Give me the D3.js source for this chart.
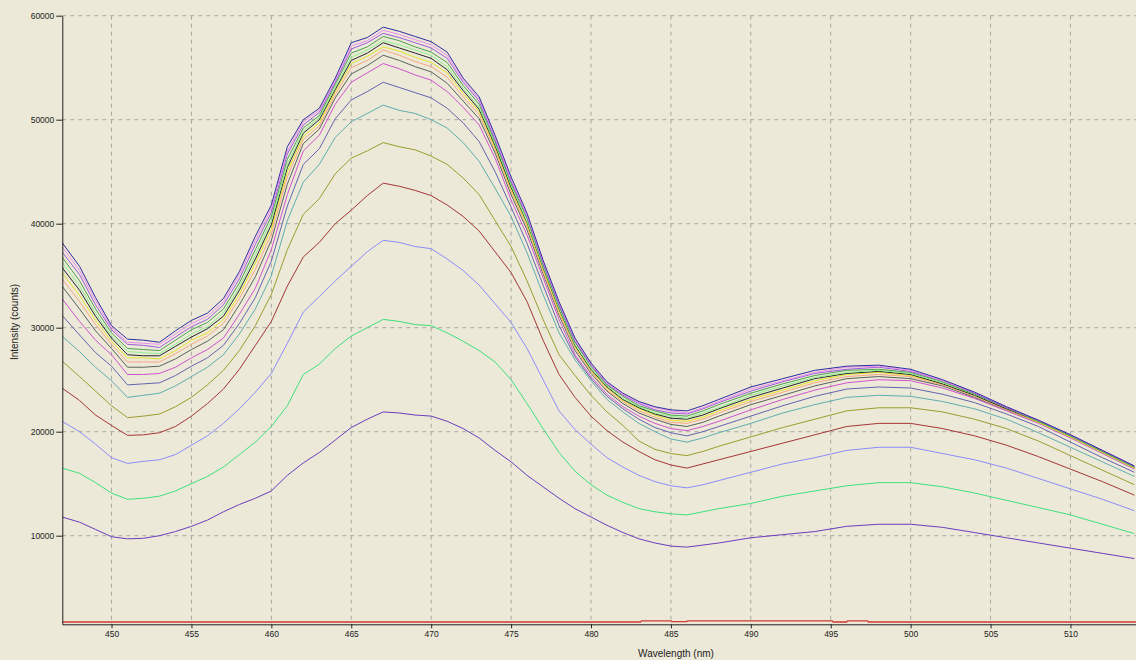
<!DOCTYPE html>
<meta charset="utf-8">
<script src="https://d3js.org/d3.v7.min.js"></script>
<style>
  body { margin: 0; background: #ECE9D8; }
</style>
<div id="my_dataviz"></div>
<script>

// wavelength grid (nm) shared by all spectra
var wavelength = [446.9,448,449,450,451,452,453,454,455,456,457,458,459,460,461,462,463,464,465,466,467,468,469,470,471,472,473,474,475,476,477,478,479,480,481,482,483,484,485,486,487,488,490,492,494,496,498,500,502,504,506,508,510,512,514];

// intensity (counts), lowest spectrum first
var purple  = [11800,11300,10600,9900,9700,9750,10000,10400,10900,11500,12300,13000,13600,14300,15800,17000,18000,19200,20400,21200,21900,21800,21600,21500,21000,20300,19400,18200,17100,15800,14700,13600,12600,11800,11000,10300,9700,9300,9000,8900,9100,9300,9800,10100,10400,10900,11100,11100,10800,10300,9800,9300,8800,8300,7800];
var green   = [16500,16000,15100,14100,13500,13600,13800,14300,15000,15700,16600,17800,19000,20500,22500,25500,26500,28000,29200,30000,30800,30600,30300,30200,29500,28700,27800,26700,25000,22700,20300,18000,16200,14900,13900,13200,12600,12300,12100,12000,12300,12600,13100,13800,14300,14800,15100,15100,14700,14100,13400,12700,12000,11100,10200];
var lavender= [21000,20000,18800,17500,16950,17150,17300,17800,18700,19600,20800,22200,23800,25600,28500,31500,33000,34500,35900,37300,38400,38200,37800,37600,36600,35500,34100,32300,30500,28000,25000,22000,20200,18800,17500,16600,15800,15200,14800,14600,14900,15300,16100,16900,17500,18200,18500,18500,17900,17300,16500,15500,14500,13500,12400];
var brown   = [24200,23000,21600,20600,19650,19700,19900,20500,21500,22700,24100,26000,28300,30600,34000,36800,38200,40000,41300,42700,43900,43600,43200,42700,41800,40700,39300,37300,35300,32500,28800,25500,23300,21500,20100,19000,18100,17300,16800,16500,16900,17300,18100,18900,19700,20500,20800,20800,20300,19600,18700,17600,16400,15200,13900];
var olive   = [26800,25300,23900,22500,21350,21500,21700,22400,23300,24500,25900,27800,30200,33200,37500,40900,42400,44800,46300,47000,47800,47400,47100,46500,45700,44400,42800,40300,37800,34500,30800,27400,25400,23500,21900,20600,19100,18300,17900,17700,18100,18600,19500,20400,21200,22000,22300,22300,21900,21200,20300,19100,17700,16300,14900];
var teal    = [29200,27700,26200,24900,23300,23500,23700,24400,25300,26200,27400,29400,31800,35000,40300,44000,45700,48300,49800,50600,51400,50900,50600,50000,49200,47800,46000,43400,40700,37200,33200,29500,26900,24900,23100,21900,20800,20000,19300,19000,19400,19900,20800,21800,22600,23300,23500,23400,22900,22200,21200,19900,18500,17100,15700];
var slate   = [31200,29300,27600,26300,24500,24600,24700,25400,26300,27100,28300,30400,32900,36400,41700,45700,47200,50100,51900,52700,53600,53100,52600,52100,51100,49700,47900,45000,41600,38100,34100,30200,27200,25100,23400,22200,21200,20400,19900,19600,20000,20500,21500,22500,23400,24100,24300,24200,23600,22800,21700,20500,19000,17500,16100];
var magenta = [32800,30600,28800,27400,25500,25500,25600,26200,27100,27900,29000,31300,33800,37500,42800,47000,48500,51500,53600,54500,55400,54900,54300,53800,52700,51200,49500,46300,42300,38900,34800,30800,27400,25300,23600,22400,21500,20800,20300,20100,20500,21000,22100,23100,24000,24700,25000,24900,24200,23200,22000,20800,19400,17900,16400];
var gray    = [34000,31800,29700,28000,26200,26200,26300,27000,27900,28700,29800,32200,34900,38400,43800,47700,49100,52100,54400,55200,56200,55700,55100,54600,53500,51800,50100,46800,42800,39400,35200,31200,27800,25600,23900,22700,21800,21200,20700,20500,20900,21500,22600,23500,24400,25100,25300,25100,24400,23300,22100,20900,19500,18000,16500];
var salmon  = [34700,32500,30300,28400,26700,26700,26700,27500,28400,29200,30400,32800,35600,39000,44500,48100,49400,52400,55000,55700,56700,56200,55600,55100,54100,52200,50500,47100,43100,39700,35400,31400,28000,25800,24000,22900,22000,21400,20900,20800,21200,21800,22900,23800,24700,25300,25500,25300,24500,23400,22100,20900,19500,18000,16500];
var yellow  = [35300,33100,30700,28700,27100,27100,27000,27800,28800,29500,30800,33200,36200,39500,45000,48400,49700,52700,55400,56100,57000,56600,56000,55500,54500,52500,50800,47300,43300,39900,35600,31600,28200,25900,24200,23000,22200,21600,21100,21000,21400,22000,23100,24000,24900,25500,25700,25400,24600,23500,22200,20900,19500,18000,16500];
var black   = [35800,33600,31100,29000,27400,27300,27300,28200,29100,29900,31100,33600,36600,39900,45400,48700,50000,52900,55700,56400,57400,56900,56400,55900,54800,52800,51000,47500,43500,40100,35800,31800,28300,26000,24300,23100,22300,21700,21300,21200,21600,22200,23300,24200,25100,25600,25800,25500,24600,23500,22200,21000,19600,18100,16600];
var mint    = [36300,34000,31400,29200,27700,27600,27500,28400,29400,30100,31400,33900,37000,40300,45700,48900,50200,53100,56000,56700,57600,57200,56700,56200,55100,53000,51200,47700,43700,40200,35900,31900,28400,26100,24400,23200,22400,21800,21500,21300,21800,22300,23500,24400,25200,25700,25900,25600,24700,23600,22300,21000,19600,18100,16600];
var leaf    = [36800,34500,31800,29500,28000,27900,27800,28800,29800,30500,31800,34300,37500,40700,46200,49200,50400,53400,56400,57000,58000,57600,57000,56500,55500,53300,51500,47900,43900,40500,36100,32100,28600,26300,24500,23400,22500,22000,21600,21500,22000,22600,23700,24600,25400,25900,26000,25700,24800,23600,22300,21000,19600,18100,16600];
var violet  = [37300,35100,32200,29800,28400,28300,28100,29100,30100,30800,32200,34700,38000,41100,46700,49500,50700,53600,56800,57400,58300,57900,57400,56900,55900,53600,51800,48100,44100,40700,36200,32200,28700,26400,24600,23500,22700,22100,21800,21700,22200,22800,23900,24800,25600,26000,26200,25800,24900,23700,22300,21100,19700,18200,16700];
var pink    = [37800,35500,32600,30000,28600,28500,28400,29400,30400,31100,32500,35100,38400,41500,47000,49800,50900,53800,57100,57600,58600,58200,57700,57200,56200,53800,52000,48300,44300,40800,36400,32400,28900,26500,24700,23600,22800,22300,22000,21800,22300,22900,24100,24900,25700,26200,26300,25900,24900,23800,22400,21100,19700,18200,16700];
var blue    = [38200,35900,32900,30200,28900,28800,28600,29700,30700,31400,32800,35400,38800,41800,47400,50000,51100,54000,57400,57900,58900,58500,58000,57500,56500,54000,52200,48500,44500,41000,36500,32500,29000,26600,24800,23700,22900,22400,22100,22000,22500,23100,24300,25100,25900,26300,26400,26000,25000,23800,22400,21100,19700,18200,16700];

// flat dark-count spectrum along the bottom
var baseWl  = [446.9,483.1,483.15,485.0,485.05,486.0,486.05,495.1,495.15,496.0,496.05,497.3,497.35,514.1];
var baseVal = [1700,1700,1810,1810,1740,1740,1810,1810,1700,1700,1810,1810,1700,1700];

var xTicks = [450,455,460,465,470,475,480,485,490,495,500,505,510];
var yTicks = [10000,20000,30000,40000,50000,60000];

var spectra = [
  {name: "s1",  color: "#6B3DBE", values: purple},
  {name: "s2",  color: "#3FE07C", values: green},
  {name: "s3",  color: "#8C8CFA", values: lavender},
  {name: "s4",  color: "#A43636", values: brown},
  {name: "s5",  color: "#9C9C2E", values: olive},
  {name: "s6",  color: "#5FAEAE", values: teal},
  {name: "s7",  color: "#6464AE", values: slate},
  {name: "s8",  color: "#D052D0", values: magenta},
  {name: "s9",  color: "#5A625A", values: gray},
  {name: "s10", color: "#F8A682", values: salmon},
  {name: "s11", color: "#E2E226", values: yellow},
  {name: "s12", color: "#262626", values: black},
  {name: "s13", color: "#8CF08C", values: mint},
  {name: "s14", color: "#4FA24F", values: leaf},
  {name: "s15", color: "#9C5CDC", values: violet},
  {name: "s16", color: "#EE8CEE", values: pink},
  {name: "s17", color: "#2E2EA2", values: blue}
];

var W = 1136, H = 660;
var plotL = 62.3, plotR = 1136, plotT = 15.7, plotB = 624.3;

var svg = d3.select("#my_dataviz")
  .append("svg")
    .attr("width", W)
    .attr("height", H)
    .style("display", "block")
    .style("background", "#ECE9D8");

var x = d3.scaleLinear().domain([446.92, 514.1]).range([plotL, plotR]);
var y = d3.scaleLinear().domain([1480, 60000]).range([plotB, plotT]);

// dashed grid
svg.append("g").selectAll("line.gx")
  .data(xTicks).enter().append("line")
    .attr("x1", function(d){ return x(d) }).attr("x2", function(d){ return x(d) })
    .attr("y1", plotT).attr("y2", plotB)
    .attr("stroke", "#A8A8A2").attr("stroke-dasharray", "4,4");
svg.append("g").selectAll("line.gy")
  .data(yTicks).enter().append("line")
    .attr("x1", plotL).attr("x2", plotR)
    .attr("y1", function(d){ return y(d) }).attr("y2", function(d){ return y(d) })
    .attr("stroke", "#A8A8A2").attr("stroke-dasharray", "4,4");

svg.append("clipPath").attr("id", "plotclip")
  .append("rect").attr("x", plotL).attr("y", 0).attr("width", plotR - plotL).attr("height", plotB);

var line = d3.line()
  .x(function(d){ return x(d[0]) })
  .y(function(d){ return y(d[1]) });

var lines = svg.append("g").attr("clip-path", "url(#plotclip)");

lines.selectAll("path.spec")
  .data(spectra)
  .enter()
  .append("path")
    .attr("d", function(d){ return line(d.values.map(function(v, i){ return [wavelength[i], v] })) })
    .attr("stroke", function(d){ return d.color })
    .attr("stroke-width", 1)
    .attr("fill", "none");

lines.append("path")
  .attr("d", line(baseVal.map(function(v, i){ return [baseWl[i], v] })))
  .attr("stroke", "#D03A32")
  .attr("stroke-width", 1.3)
  .attr("fill", "none");

// axes
var xAxis = svg.append("g")
  .attr("transform", "translate(0," + plotB + ")")
  .call(d3.axisBottom(x).tickValues(xTicks).tickSize(4).tickSizeOuter(0).tickPadding(3));
var yAxis = svg.append("g")
  .attr("transform", "translate(" + plotL + ",0)")
  .call(d3.axisLeft(y).tickValues(yTicks).tickSize(6).tickSizeOuter(0).tickPadding(2).tickFormat(function(d){ return String(d) }));

[xAxis, yAxis].forEach(function(a){
  a.attr("font-family", "'Liberation Sans', Arial, sans-serif").attr("font-size", 8.5);
  a.selectAll("path, line").attr("stroke", "#222");
  a.selectAll("text").attr("fill", "#222");
});

svg.append("text")
  .attr("x", 676)
  .attr("y", 657)
  .attr("text-anchor", "middle")
  .attr("font-family", "'Liberation Sans', Arial, sans-serif")
  .attr("font-size", 10)
  .attr("fill", "#222")
  .text("Wavelength (nm)");

svg.append("text")
  .attr("transform", "translate(18,322) rotate(-90)")
  .attr("text-anchor", "middle")
  .attr("font-family", "'Liberation Sans', Arial, sans-serif")
  .attr("font-size", 10)
  .attr("fill", "#222")
  .text("Intensity (counts)");

</script>
